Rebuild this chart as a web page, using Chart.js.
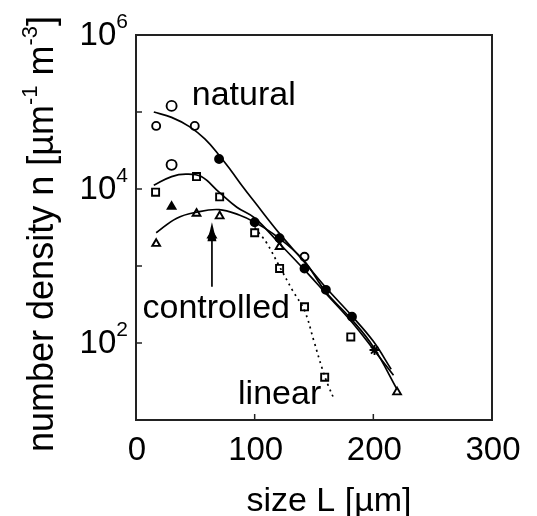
<!DOCTYPE html>
<html><head><meta charset="utf-8">
<script src="https://cdn.jsdelivr.net/npm/chart.js@4"></script>
<style>html,body{margin:0;padding:0;background:#fff}#wrap{width:537px;height:516px}</style>
</head><body><div id="wrap"><canvas id="c" width="537" height="516"></canvas></div>
<script>
// ---- data ----
const naturalCurveX = [15, 30, 45, 58, 70, 80, 90, 100, 121, 142, 160, 182, 200, 215];
const naturalCurveY = [100000, 85100, 64600, 44700, 27500, 17400, 10700, 6760, 2630, 1120, 525, 224, 105, 45.7];

const middleCurveX = [15, 30, 42, 55, 70, 85, 100, 121, 142, 160, 182, 200, 217];
const middleCurveY = [11200, 14500, 15600, 14500, 9100, 5800, 4200, 1950, 890, 440, 186, 83, 38];

const controlledCurveX = [17, 34, 51, 70, 87, 100, 119, 141, 160, 182, 200, 220];
const controlledCurveY = [2700, 4150, 5000, 5400, 4600, 3700, 2400, 1200, 460, 200, 89, 25];

const linearCurveX = [100, 110, 121, 132, 142, 150, 157, 162, 167];
const linearCurveY = [3160, 2000, 980, 480, 263, 105, 46, 28, 18.6];

const openCircleX = [17, 49.5, 142];
const openCircleY = [66000, 66000, 1320];
const openHexX = [30, 30];
const openHexY = [120000, 20600];
const filledCircleX = [70, 100, 121, 142, 160, 182];
const filledCircleY = [24500, 3700, 2300, 930, 490, 220];
const openSquareX = [16.5, 51, 70.5, 100, 121, 142, 159, 181];
const openSquareY = [9100, 14500, 7900, 2700, 930, 295, 36, 120];
const openTriX = [17, 51, 70.5, 121, 220];
const openTriY = [1950, 4800, 4450, 1780, 23];
const filledTriX = [30, 64];
const filledTriY = [5900, 2500];
const starX = [201];
const starY = [81];

const xTickValues = [0, 100, 200, 300];
const xTickLabels = ["0", "100", "200", "300"];
const yTickValues = [100, 10000, 1000000];
const yTickBase = ["10", "10", "10"];
const yTickExp = ["2", "4", "6"];
const xMinorTicks = [100, 200];
const yMinorTicks = [100, 1000, 10000, 100000];

const annotText = ["natural", "controlled", "linear"];
const annotX = [47, 5.5, 86];
const annotY = [123000, 211, 16.2];
const arrowX = 64;
const arrowFromY = 537;
const arrowToY = 3700;

const xTitle = "size L [µm]";
const yTitleParts = ["number density n [µm", "-1", " m", "-3", "]"];

// ---- helpers ----
function pts(xs, ys) { return xs.map((x, i) => ({ x: x, y: ys[i] })); }
const FONT = '"Liberation Sans", Arial, Helvetica, sans-serif';

function curve(xs, ys, dash) {
  return { type: 'line', data: pts(xs, ys), borderColor: '#000', borderWidth: 1.7,
    borderDash: dash || [], pointRadius: 0, tension: 0.4, fill: false };
}
function marks(xs, ys, style, filled, r) {
  return { type: 'scatter', data: pts(xs, ys), pointStyle: style, pointRadius: r,
    pointBackgroundColor: filled ? '#000' : '#fff', pointBorderColor: '#000', pointBorderWidth: 1.9, showLine: false };
}

function drawRich(ctx, parts, x, y, align) {
  let w = 0;
  parts.forEach(p => { ctx.font = p.size + 'px ' + FONT; w += ctx.measureText(p.t).width; });
  let cx = align === 'right' ? x - w : align === 'center' ? x - w / 2 : x;
  ctx.textAlign = 'left';
  ctx.textBaseline = 'alphabetic';
  parts.forEach(p => {
    ctx.font = p.size + 'px ' + FONT;
    ctx.fillText(p.t, cx, y + (p.dy || 0));
    cx += ctx.measureText(p.t).width;
  });
}

const decor = {
  id: 'decor',
  afterDatasetsDraw(chart) {
    const ctx = chart.ctx, a = chart.chartArea, xs = chart.scales.x, ys = chart.scales.y;
    ctx.save();
    ctx.fillStyle = '#000';
    ctx.strokeStyle = '#000';
    // arrow
    const ax = xs.getPixelForValue(arrowX), ay0 = ys.getPixelForValue(arrowFromY), ay1 = ys.getPixelForValue(arrowToY);
    ctx.lineWidth = 1.7;
    ctx.beginPath(); ctx.moveTo(ax, ay0); ctx.lineTo(ax, ay1 + 14); ctx.stroke();
    ctx.beginPath(); ctx.moveTo(ax, ay1); ctx.lineTo(ax - 4.5, ay1 + 19); ctx.lineTo(ax + 4.5, ay1 + 19); ctx.closePath(); ctx.fill();
    // frame
    ctx.strokeStyle = '#222';
    ctx.lineWidth = 2;
    ctx.strokeRect(a.left, a.top, a.right - a.left, a.bottom - a.top);
    // ticks inward
    ctx.lineWidth = 1.5;
    xMinorTicks.forEach(v => { const p = xs.getPixelForValue(v); ctx.beginPath(); ctx.moveTo(p, a.bottom); ctx.lineTo(p, a.bottom - 6); ctx.stroke(); });
    yMinorTicks.forEach(v => { const p = ys.getPixelForValue(v); ctx.beginPath(); ctx.moveTo(a.left, p); ctx.lineTo(a.left + 6, p); ctx.stroke(); });
    ctx.fillStyle = '#000';
    xTickValues.forEach((v, i) => drawRich(ctx, [{ t: xTickLabels[i], size: 33 }], xs.getPixelForValue(v) + 1, a.bottom + 40, 'center'));
    yTickValues.forEach((v, i) => drawRich(ctx, [{ t: yTickBase[i], size: 33 }, { t: yTickExp[i], size: 21, dy: -17 }], a.left - 8, ys.getPixelForValue(v) + 10, 'right'));
    annotText.forEach((t, i) => drawRich(ctx, [{ t: t, size: 34 }], xs.getPixelForValue(annotX[i]), ys.getPixelForValue(annotY[i]), 'left'));
    drawRich(ctx, [{ t: xTitle, size: 34 }], a.left + 193, a.bottom + 91, 'center');
    ctx.save();
    ctx.translate(a.left - 83, a.top + 199);
    ctx.rotate(-Math.PI / 2);
    drawRich(ctx, [
      { t: yTitleParts[0], size: 36 }, { t: yTitleParts[1], size: 22, dy: -16 },
      { t: yTitleParts[2], size: 36 }, { t: yTitleParts[3], size: 22, dy: -16 },
      { t: yTitleParts[4], size: 36 }], 0, 0, 'center');
    ctx.restore();
    ctx.restore();
  }
};

new Chart(document.getElementById('c'), {
  type: 'scatter',
  data: {
    datasets: [
      curve(naturalCurveX, naturalCurveY),
      curve(middleCurveX, middleCurveY),
      curve(controlledCurveX, controlledCurveY),
      curve(linearCurveX, linearCurveY, [2, 4]),
      marks(openCircleX, openCircleY, 'circle', false, 4),
      marks(openHexX, openHexY, 'circle', false, 5),
      marks(filledCircleX, filledCircleY, 'circle', true, 4),
      marks(openSquareX, openSquareY, 'rect', false, 5),
      marks(openTriX, openTriY, 'triangle', false, 4.5),
      marks(filledTriX, filledTriY, 'triangle', true, 4.5),
      marks(starX, starY, 'star', false, 5)
    ]
  },
  options: {
    responsive: false,
    animation: false,
    devicePixelRatio: 1,
    layout: { padding: { left: 136, top: 35, right: 45, bottom: 96 } },
    plugins: { legend: { display: false }, tooltip: { enabled: false } },
    scales: {
      x: { type: 'linear', min: 0, max: 300, display: false },
      y: { type: 'logarithmic', min: 10, max: 1000000, display: false }
    }
  },
  plugins: [decor]
});
</script></body></html>
